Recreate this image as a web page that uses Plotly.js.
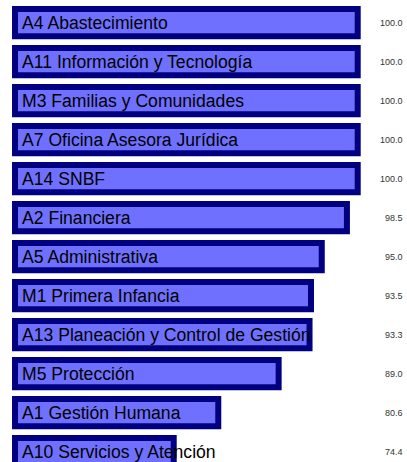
<!DOCTYPE html>
<html>
<head>
<meta charset="utf-8">
<script src="https://cdn.plot.ly/plotly-3.0.1.min.js"></script>
<style>html,body{margin:0;padding:0;background:#fff;}#chart{width:407px;height:462px;}</style>
</head>
<body>
<div id="chart"></div>
<script>
const categories = [
  "A4 Abastecimiento",
  "A11 Información y Tecnología",
  "M3 Familias y Comunidades",
  "A7 Oficina Asesora Jurídica",
  "A14 SNBF",
  "A2 Financiera",
  "A5 Administrativa",
  "M1 Primera Infancia",
  "A13 Planeación y Control de Gestión",
  "M5 Protección",
  "A1 Gestión Humana",
  "A10 Servicios y Atención"
];
const values = [100.0, 100.0, 100.0, 100.0, 100.0, 98.5, 95.0, 93.5, 93.3, 89.0, 80.6, 74.4];
const valueLabels = values.map(v => v.toFixed(1));

const BASE = 52.32;

const bar = {
  type: 'bar',
  orientation: 'h',
  y: categories,
  x: values.map(v => v - BASE),
  base: BASE,
  width: 0.7,
  cliponaxis: false,
  marker: {color: '#7070ff', line: {color: '#000080', width: 6}},
  hoverinfo: 'none'
};

const annotations = [];
categories.forEach((c, i) => {
  annotations.push({
    xref: 'paper', yref: 'y', x: 21 / 407, y: c, xanchor: 'left', yanchor: 'middle',
    text: c, showarrow: false, borderpad: 0,
    font: {family: 'Liberation Sans', size: 17.6, color: '#000'}
  });
  annotations.push({
    xref: 'paper', yref: 'y', x: 404 / 407, y: c, xanchor: 'right', yanchor: 'middle',
    text: valueLabels[i], showarrow: false, borderpad: 0,
    font: {family: 'Liberation Sans', size: 9, color: '#333'}
  });
});

const layout = {
  width: 407, height: 462,
  margin: {l: 0, r: 0, t: 0, b: 0, pad: 0},
  paper_bgcolor: '#fff', plot_bgcolor: '#fff',
  showlegend: false,
  font: {family: 'Liberation Sans'},
  xaxis: {range: [50.23, 106.86], visible: false, showgrid: false, zeroline: false},
  yaxis: {type: 'category', range: [11.264, -0.582], visible: false, showgrid: false, zeroline: false},
  annotations: annotations
};

Plotly.newPlot('chart', [bar], layout, {staticPlot: true, displayModeBar: false});
</script>
</body>
</html>
